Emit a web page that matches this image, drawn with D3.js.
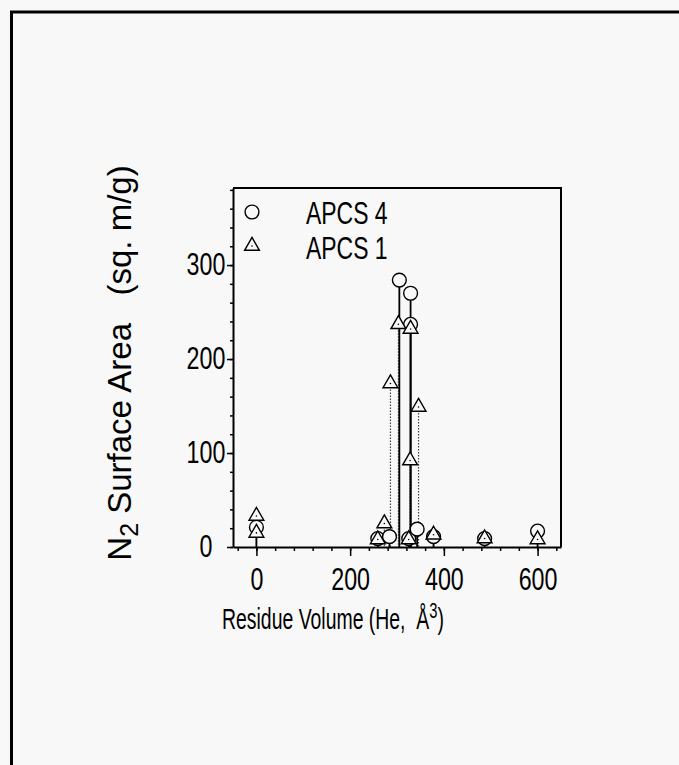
<!DOCTYPE html>
<html>
<head>
<meta charset="utf-8">
<script src="https://cdn.jsdelivr.net/npm/d3@7"></script>
<style>
  body { margin: 0; background: #f8f8f8; }
  text { font-family: "Liberation Sans", Arial, sans-serif; fill: #000; }
</style>
</head>
<body>
<div id="chart-container"></div>
<script>
// Data
const seriesNames = ["APCS 4", "APCS 1"];

// APCS 4 (circles)
const apcs4Volume = [0, 259, 284, 305, 329, 329, 325, 343, 378, 487, 600];
const apcs4Area   = [21, 9, 11, 284, 270, 237, 9, 19, 11, 9, 17];

// APCS 1 (triangles)
const apcs1Volume = [0, 0, 259, 273, 286, 303, 329, 328, 346, 325, 378, 487, 600];
const apcs1Area   = [33, 15, 8, 25, 174, 237, 232, 92, 149, 8, 13, 9, 8];

const xTickValues = [0, 200, 400, 600];
const yTickValues = [0, 100, 200, 300];

// Margins
const margin = { top: 188, right: 118, bottom: 218, left: 233 };
const width = 679 - margin.left - margin.right;
const height = 765 - margin.top - margin.bottom;

// the scanned figure has narrow, tall lettering
const squeeze = (sel, k) => sel.each(function () {
    const len = this.getComputedTextLength();
    d3.select(this).attr("textLength", len * k).attr("lengthAdjust", "spacingAndGlyphs");
});

const root = d3.select("#chart-container")
    .append("svg")
    .attr("width", 679)
    .attr("height", 765);

root.append("rect")
    .attr("width", 679).attr("height", 765)
    .attr("fill", "#f8f8f8");

// page frame (top and left edges)
root.append("path")
    .attr("d", "M11.5,765 V12 H679")
    .attr("fill", "none")
    .attr("stroke", "#000")
    .attr("stroke-width", 3);

const svg = root.append("g")
    .attr("transform", `translate(${margin.left},${margin.top})`);

// Scales
const xScale = d3.scaleLinear().domain([-50, 650]).range([0, width]);
const yScale = d3.scaleLinear().domain([0, 382]).range([height, 0]);

// Minor ticks
svg.append("g")
    .attr("transform", `translate(0,${height})`)
    .call(d3.axisBottom(xScale).tickValues(d3.range(-40, 641, 40)).tickSize(4).tickFormat(""))
    .call(g => g.select(".domain").remove())
    .selectAll("line").attr("stroke-width", 1.5);

svg.append("g")
    .call(d3.axisLeft(yScale).tickValues(d3.range(0, 381, 20)).tickSize(3).tickFormat(""))
    .call(g => g.select(".domain").remove())
    .selectAll("line").attr("stroke-width", 1.5);

// Major axes
const xAxis = svg.append("g")
    .attr("transform", `translate(0,${height})`)
    .call(d3.axisBottom(xScale).tickValues(xTickValues).tickSize(9).tickPadding(12).tickSizeOuter(0));
xAxis.selectAll("text")
    .style("font-size", "31px")
    .attr("transform", "scale(0.75,1)");

const yAxis = svg.append("g")
    .call(d3.axisLeft(yScale).tickValues(yTickValues).tickSize(6).tickPadding(12).tickSizeOuter(0));
yAxis.selectAll("text")
    .style("font-size", "31px")
    .attr("text-anchor", "middle")
    .attr("x", 0)
    .attr("transform", "translate(-27,0) scale(0.75,1)");

svg.selectAll(".domain").attr("stroke-width", 2);
svg.selectAll(".tick line").attr("stroke-width", 1.5);

// Frame top and right
svg.append("path")
    .attr("d", `M0,0 H${width} V${height}`)
    .attr("fill", "none")
    .attr("stroke", "#000")
    .attr("stroke-width", 2);

// Drop lines
const apcs4 = apcs4Volume.map((v, i) => ({ x: v, y: apcs4Area[i] }));
const apcs1 = apcs1Volume.map((v, i) => ({ x: v, y: apcs1Area[i] }));

svg.selectAll(".drop1")
    .data(apcs1)
    .enter().append("line")
    .attr("class", "drop1")
    .attr("x1", d => xScale(d.x)).attr("x2", d => xScale(d.x))
    .attr("y1", d => yScale(d.y)).attr("y2", height)
    .attr("stroke", "#444")
    .attr("stroke-width", 1.2)
    .attr("stroke-dasharray", "1.5,1.5");

svg.selectAll(".drop4")
    .data(apcs4)
    .enter().append("line")
    .attr("class", "drop4")
    .attr("x1", d => xScale(d.x)).attr("x2", d => xScale(d.x))
    .attr("y1", d => yScale(d.y)).attr("y2", height)
    .attr("stroke", "#000")
    .attr("stroke-width", 1.8);

// Markers
const circleSym = d3.symbol().type(d3.symbolCircle).size(150);
const triSym = d3.symbol().type(d3.symbolTriangle).size(95);

svg.selectAll(".dot4")
    .data(apcs4)
    .enter().append("path")
    .attr("class", "dot4")
    .attr("transform", d => `translate(${xScale(d.x)},${yScale(d.y)})`)
    .attr("d", circleSym)
    .attr("fill", "#f8f8f8")
    .attr("stroke", "#000")
    .attr("stroke-width", 1.4);

const tri = svg.selectAll(".dot1")
    .data(apcs1)
    .enter().append("g")
    .attr("class", "dot1")
    .attr("transform", d => `translate(${xScale(d.x)},${yScale(d.y)})`);
tri.append("path")
    .attr("d", triSym)
    .attr("fill", "#f8f8f8")
    .attr("stroke", "#000")
    .attr("stroke-width", 1.4);
tri.append("circle").attr("r", 0.8).attr("fill", "#000");

// Legend
const legend = svg.append("g").attr("transform", "translate(19,24)");
legend.append("path")
    .attr("d", circleSym)
    .attr("fill", "#f8f8f8").attr("stroke", "#000").attr("stroke-width", 1.4);
const legTri = legend.append("g").attr("transform", "translate(0,34)");
legTri.append("path")
    .attr("d", triSym)
    .attr("fill", "#f8f8f8").attr("stroke", "#000").attr("stroke-width", 1.4);
legTri.append("circle").attr("r", 0.8).attr("fill", "#000");

legend.selectAll(".legtext")
    .data(seriesNames)
    .enter().append("text")
    .attr("class", "legtext")
    .attr("x", 54)
    .attr("y", (d, i) => 12 + i * 35)
    .style("font-size", "31px")
    .text(d => d)
    .call(squeeze, 0.74);

// Axis titles
const xTitle = root.append("g")
    .attr("transform", "translate(222,629) scale(0.67,1)")
    .append("text")
    .style("font-size", "29px");
xTitle.append("tspan").text("Residue Volume (He,\u00a0\u00a0\u00c5");
xTitle.append("tspan").attr("dy", -11).style("font-size", "22px").text("3");
xTitle.append("tspan").attr("dy", 11).text(")");

const yTitle = root.append("text")
    .attr("transform", "translate(131,363) rotate(-90)")
    .attr("text-anchor", "middle")
    .style("font-size", "33px");
yTitle.append("tspan").text("N");
yTitle.append("tspan").attr("dy", 7).style("font-size", "25px").text("2");
yTitle.append("tspan").attr("dy", -7).text(" Surface Area\u00a0\u00a0\u00a0(sq. m/g)");
</script>
</body>
</html>
